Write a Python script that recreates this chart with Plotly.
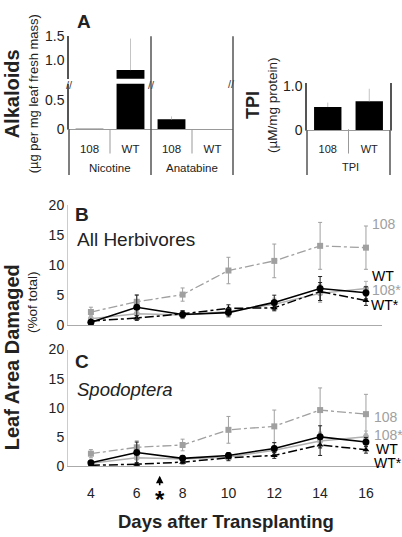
import plotly.graph_objects as go

W, H = 402, 537
def px(x): return x / W
def py(y): return 1 - y / H

# ---------- Panel A data ----------
alk_cats = ["Nicotine 108", "Nicotine WT", "Anatabine 108", "Anatabine WT"]
alk_ticktext = ["108", "WT", "108", "WT"]
alk_groups = ["Nicotine", "Anatabine"]
alk_values = [0.01, 0.80, 0.17, 0.0]
alk_err = [0.0, 0.65, 0.05, 0.0]

tpi_cats = ["TPI 108", "TPI WT"]
tpi_ticktext = ["108", "WT"]
tpi_group = "TPI"
tpi_values = [0.52, 0.65]
tpi_err = [0.10, 0.28]

# ---------- Panels B/C data ----------
days = [4, 6, 8, 10, 12, 14, 16]
B_108 = [2.2, 3.9, 5.1, 9.1, 10.7, 13.2, 12.9]
B_108_err = [0.8, 1.2, 1.1, 2.2, 2.8, 3.9, 3.6]
B_WT = [0.5, 3.0, 1.8, 2.1, 3.8, 6.1, 5.4]
B_WT_err = [0.3, 2.0, 0.6, 0.7, 1.2, 2.0, 1.0]
B_108s = [1.1, 1.9, 1.7, 2.3, 3.5, 5.3, 6.1]
B_108s_err = [0.5, 0.8, 0.6, 0.5, 1.0, 1.5, 1.2]
B_WTs = [0.7, 1.2, 1.9, 2.8, 2.9, 5.6, 4.1]
B_WTs_err = [0.2, 0.4, 0.5, 0.6, 0.5, 1.5, 0.8]

C_108 = [2.1, 3.2, 3.6, 6.2, 6.8, 9.6, 8.9]
C_108_err = [0.7, 1.1, 1.0, 2.3, 2.8, 3.8, 3.4]
C_WT = [0.55, 2.3, 1.3, 1.8, 3.0, 5.0, 4.1]
C_WT_err = [0.3, 1.8, 0.5, 0.5, 1.0, 1.9, 0.8]
C_108s = [0.45, 1.4, 1.2, 1.55, 2.7, 4.3, 5.0]
C_108s_err = [0.4, 0.8, 0.5, 0.5, 0.8, 1.2, 1.0]
C_WTs = [0.1, 0.3, 0.65, 1.4, 1.8, 3.6, 2.8]
C_WTs_err = [0.1, 0.2, 0.3, 0.5, 0.5, 1.8, 0.6]

x_ticks = [4, 6, 8, 10, 12, 14, 16]
y_ticks = [0, 5, 10, 15, 20]

FONT = "Liberation Sans, Arial, sans-serif"
GRAY = "#a0a0a0"
ERRG = "#c4c4c4"

fig = go.Figure()

# lower segment of broken axis
fig.add_trace(go.Bar(x=alk_cats, y=alk_values, xaxis="x", yaxis="y",
                     marker=dict(color="black", line=dict(width=0)), width=0.68,
                     error_y=dict(type="data", array=alk_err, arrayminus=[0]*4, symmetric=False,
                                  color=ERRG, thickness=1, width=0),
                     showlegend=False))
# upper segment of broken axis
fig.add_trace(go.Bar(x=alk_cats, y=alk_values, xaxis="x", yaxis="y2",
                     marker=dict(color="black", line=dict(width=0)), width=0.68,
                     error_y=dict(type="data", array=alk_err, arrayminus=[0]*4, symmetric=False,
                                  color=ERRG, thickness=1, width=0),
                     showlegend=False))
# TPI
fig.add_trace(go.Bar(x=tpi_cats, y=tpi_values, xaxis="x2", yaxis="y3",
                     marker=dict(color="black", line=dict(width=0)), width=0.66,
                     error_y=dict(type="data", array=tpi_err, arrayminus=[0]*2, symmetric=False,
                                  color=ERRG, thickness=1, width=0),
                     showlegend=False))

def add_series(xa, ya, yv, err, color, dash, symbol, msize, lw, ecolor):
    fig.add_trace(go.Scatter(
        x=days, y=yv, xaxis=xa, yaxis=ya, mode="lines+markers",
        line=dict(color=color, dash=dash, width=lw),
        marker=dict(color=color, symbol=symbol, size=msize),
        error_y=dict(type="data", array=err, color=ecolor, thickness=1, width=2),
        cliponaxis=False, showlegend=False))

for xa, ya, s108, e108, swt, ewt, s108s, e108s, swts, ewts in [
        ("x3", "y4", B_108, B_108_err, B_WT, B_WT_err, B_108s, B_108s_err, B_WTs, B_WTs_err),
        ("x4", "y5", C_108, C_108_err, C_WT, C_WT_err, C_108s, C_108s_err, C_WTs, C_WTs_err)]:
    add_series(xa, ya, s108, e108, GRAY, "dashdot", "square", 6, 1.3, GRAY)
    add_series(xa, ya, s108s, e108s, "#b0b0b0", "solid", "circle", 6, 1.5, "#b0b0b0")
    add_series(xa, ya, swts, ewts, "black", "dashdot", "triangle-up", 6, 1.5, "#222")
    add_series(xa, ya, swt, ewt, "black", "solid", "circle", 7, 1.6, "#222")

tickfont = dict(family=FONT, size=14, color="#222")
catfont = dict(family=FONT, size=11.5, color="#222")
AX = "#555"

fig.update_layout(
    width=W, height=H, margin=dict(l=0, r=0, t=0, b=0),
    paper_bgcolor="white", plot_bgcolor="white",
    font=dict(family=FONT, color="#222"),
    xaxis=dict(domain=[px(69), px(233)], anchor="y", type="category",
               tickvals=alk_cats, ticktext=alk_ticktext,
               showline=True, linecolor="#999", linewidth=1,
               ticks="", ticklabelstandoff=9, tickfont=catfont, showgrid=False, zeroline=False),
    yaxis=dict(domain=[py(125), py(78)], range=[0, 0.78], anchor="x",
               tickvals=[0, 0.5], ticktext=["0", "0.5"], tickfont=tickfont,
               showline=True, linecolor=AX, linewidth=1.5, showgrid=False, zeroline=False, ticks=""),
    yaxis2=dict(domain=[py(73), py(29)], range=[0.62, 1.5], anchor="x",
                tickvals=[1.0, 1.5], ticktext=["1.0", "1.5"], tickfont=tickfont,
                showline=True, linecolor=AX, linewidth=1.5, showgrid=False, zeroline=False, ticks=""),
    xaxis2=dict(domain=[px(307), px(390)], anchor="y3", type="category",
                tickvals=tpi_cats, ticktext=tpi_ticktext,
                showline=True, linecolor="#999", linewidth=1,
                ticks="", ticklabelstandoff=9, tickfont=dict(family=FONT, size=11, color="#222"),
                showgrid=False, zeroline=False),
    yaxis3=dict(domain=[py(126), py(77)], range=[0, 1.065], anchor="x2",
                tickvals=[0, 1.0], ticktext=["0", "1.0"], tickfont=tickfont,
                showline=True, linecolor=AX, linewidth=1.5, mirror=True,
                showgrid=False, zeroline=False, ticks=""),
    xaxis3=dict(domain=[px(68), px(382)], range=[3.0, 16.7], anchor="y4",
                showline=True, linecolor="#aaa", linewidth=1, showticklabels=False,
                ticks="", showgrid=False, zeroline=False),
    yaxis4=dict(domain=[py(327), py(203)], range=[0, 20], anchor="x3",
                tickvals=y_ticks, tickfont=tickfont, showline=True, linecolor="#ccc",
                linewidth=1, showgrid=False, zeroline=False, ticks=""),
    xaxis4=dict(domain=[px(68), px(382)], range=[3.0, 16.7], anchor="y5",
                showline=True, linecolor="#aaa", linewidth=1, tickvals=x_ticks,
                tickfont=tickfont, ticks="", ticklabelstandoff=14,
                showgrid=False, zeroline=False),
    yaxis5=dict(domain=[py(472), py(352)], range=[0, 20], anchor="x4",
                tickvals=y_ticks, tickfont=tickfont, showline=True, linecolor="#ccc",
                linewidth=1, showgrid=False, zeroline=False, ticks=""),
)

# separator rules in panel A (decorative axis rules)
shapes = []
for xv, y0, y1 in [(69, 125, 172), (151, 29, 172), (233, 29, 172), (307, 126, 172), (390, 126, 172)]:
    shapes.append(dict(type="line", xref="paper", yref="paper", x0=px(xv), x1=px(xv),
                       y0=py(y0), y1=py(y1), line=dict(color=AX, width=1.5)))
# short dividers between 108 and WT (category boundaries)
for xr, xv in [("x", 0.5), ("x", 2.5), ("x2", 0.5)]:
    shapes.append(dict(type="line", xref=xr, yref="paper", x0=xv, x1=xv,
                       y0=py(125), y1=py(150), line=dict(color="#999", width=1)))
fig.update_layout(shapes=shapes)

ann = []
def text(x, y, s, size, bold=False, italic=False, color="#222", angle=0, xanchor="center"):
    if bold:
        s = "<b>" + s + "</b>"
    if italic:
        s = "<i>" + s + "</i>"
    ann.append(dict(x=px(x), y=py(y), xref="paper", yref="paper", text=s, showarrow=False,
                    textangle=angle, xanchor=xanchor, yanchor="middle",
                    font=dict(family=FONT, size=size, color=color)))

text(84, 14, "A", 19, bold=True)
text(12, 89, "Alkaloids", 20, bold=True, angle=-90)
text(33, 89, "(µg per mg leaf fresh mass)", 13, angle=-90)
text(253, 100, "TPI", 18, bold=True, angle=-90)
text(272, 100, "(µM/mg protein)", 13.5, angle=-90)
for bx, by in [(69, 79), (151, 79), (231, 78)]:
    text(bx, by, "//", 11, color="#444")

# group labels under panel A axes
text(110, 165, alk_groups[0], 11.5)
text(192, 165, alk_groups[1], 11.5)
text(350, 164, tpi_group, 11)

text(82, 213, "B", 19, bold=True)
text(75, 239, "All Herbivores", 19, xanchor="left")
text(82, 364, "C", 19, bold=True)
text(75, 393, "Spodoptera", 18.5, italic=True, xanchor="left")

text(12, 360, "Leaf Area Damaged", 20, bold=True, angle=-90)
text(33, 303, "(%of total)", 13.5, angle=-90)
text(226, 529, "Days after Transplanting", 18.5, bold=True)

text(370, 223, "108", 14, color=GRAY, xanchor="left")
text(370, 276, "WT", 14, color="black", xanchor="left")
text(370, 291, "108*", 14, color=GRAY, xanchor="left")
text(369, 306, "WT*", 14, color="black", xanchor="left")

text(372, 422, "108", 14, color=GRAY, xanchor="left")
text(372, 440, "108*", 14, color=GRAY, xanchor="left")
text(374, 455, "WT", 14, color="black", xanchor="left")
text(372, 469, "WT*", 14, color="black", xanchor="left")

# arrow and asterisk marking day 7
ann.append(dict(x=7, y=py(482), xref="x4", yref="paper", ax=0, ay=11, axref="pixel", ayref="pixel",
                text="", showarrow=True, arrowhead=2, arrowsize=1, arrowwidth=1.5, arrowcolor="black"))
ann.append(dict(x=7, y=py(507), xref="x4", yref="paper", text="<b>*</b>", showarrow=False,
                font=dict(family=FONT, size=24, color="black"), yanchor="middle"))

fig.update_layout(annotations=ann)
fig.write_html("out.html", config={"displayModeBar": False},
               post_script="document.body.style.margin='0';")
